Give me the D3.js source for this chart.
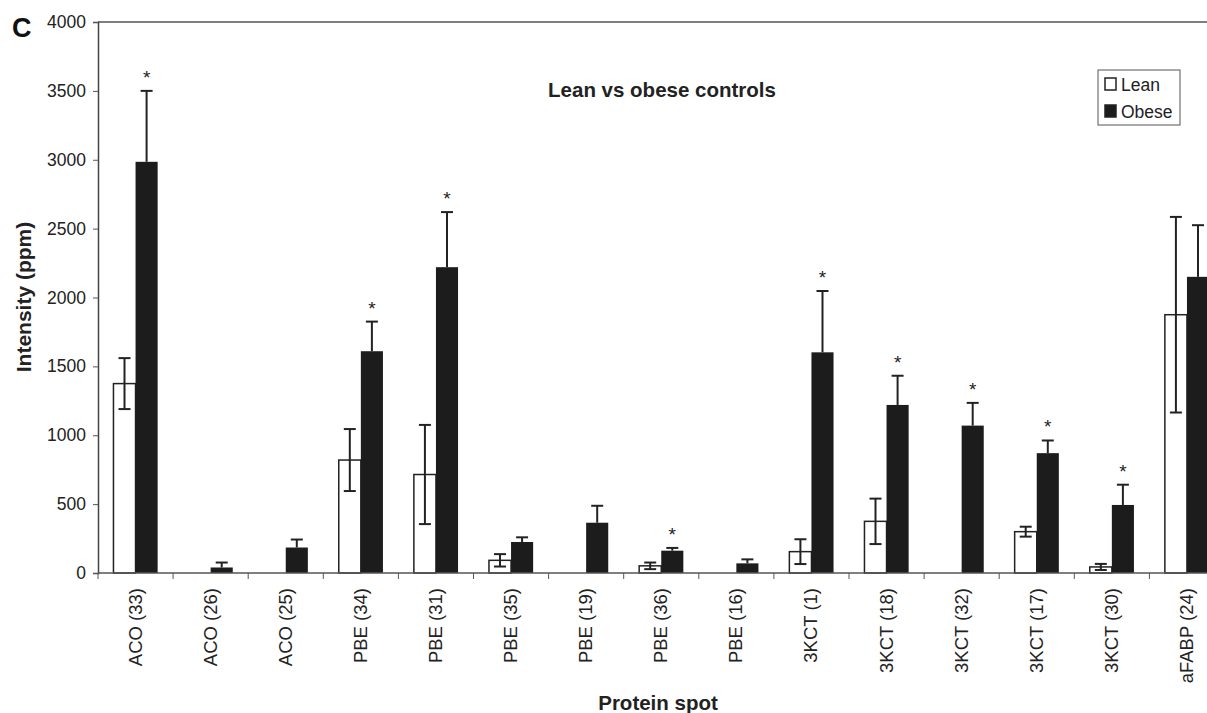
<!DOCTYPE html>
<html>
<head>
<meta charset="utf-8">
<script src="https://cdn.jsdelivr.net/npm/d3@7"></script>
<style>
  body { margin: 0; background: #fff; }
  svg { font-family: Arial, "Liberation Sans", Helvetica, sans-serif; }
</style>
</head>
<body>
<svg width="1207" height="713"></svg>
<script>
// values (ppm)
const spots = ["ACO (33)", "ACO (26)", "ACO (25)", "PBE (34)", "PBE (31)", "PBE (35)", "PBE (19)",
  "PBE (36)", "PBE (16)", "3KCT (1)", "3KCT (18)", "3KCT (32)", "3KCT (17)", "3KCT (30)", "aFABP (24)"];
const leanMean  = [1375, 0, 0, 820, 715, 92, 0, 52, 0, 155, 375, 0, 300, 44, 1875];
const leanErr   = [185, 0, 0, 225, 360, 45, 0, 24, 0, 90, 165, 0, 36, 22, 710];
const obeseMean = [2985, 40, 185, 1610, 2220, 225, 365, 162, 70, 1602, 1220, 1070, 870, 494, 2150];
const obeseErr  = [515, 36, 58, 215, 400, 34, 123, 20, 29, 445, 212, 165, 92, 147, 375];
const significant = [true, false, false, true, true, false, false, true, false, true, true, true, true, true, false];
const yTicks = [0, 500, 1000, 1500, 2000, 2500, 3000, 3500, 4000];
const groups = ["Lean", "Obese"];

const svg = d3.select("svg");
const mLeft = 98, mTop = 22, mBottom = 573, step = 75.1;

const x = d3.scaleBand().domain(spots).range([mLeft, mLeft + step * spots.length]).padding(0);
const x1 = d3.scaleBand().domain(groups).range([0, x.bandwidth()]).paddingInner(0).paddingOuter(0.7);
const y = d3.scaleLinear().domain([0, 4000]).range([mBottom, mTop]);

const rows = spots.map((s, i) => ({
  spot: s,
  bars: [
    {key: "Lean", v: leanMean[i], e: leanErr[i]},
    {key: "Obese", v: obeseMean[i], e: obeseErr[i]}
  ],
  sig: significant[i]
}));

// frame: top border + left axis
svg.append("line").attr("x1", mLeft).attr("x2", 1207).attr("y1", y(4000)).attr("y2", y(4000))
  .attr("stroke", "#555").attr("stroke-width", 1.3);

// y axis
const yAxis = svg.append("g")
  .attr("transform", `translate(${mLeft},0)`)
  .call(d3.axisLeft(y).tickValues(yTicks).tickSize(5).tickPadding(7).tickFormat(d3.format("d")));
yAxis.select(".domain").attr("stroke", "#444").attr("stroke-width", 1.5);
yAxis.selectAll(".tick line").attr("stroke", "#555");
yAxis.selectAll("text").attr("font-size", 17.5).attr("fill", "#222").attr("font-family", null);

// groups
const g = svg.append("g").selectAll("g").data(rows).join("g")
  .attr("transform", d => `translate(${x(d.spot)},0)`);

g.selectAll("rect").data(d => d.bars).join("rect")
  .attr("x", d => x1(d.key))
  .attr("y", d => y(d.v))
  .attr("width", x1.bandwidth())
  .attr("height", d => y(0) - y(d.v))
  .attr("fill", d => d.key === "Lean" ? "#fff" : "#1c1c1c")
  .attr("stroke", d => d.key === "Lean" && d.v > 0 ? "#222" : "none")
  .attr("stroke-width", 1.5);

// error bars (obese: upper half only, the lower half is hidden in the dark bar)
const cx = d => x1(d.key) + x1.bandwidth() / 2;
const eb = g.selectAll("g.err").data(d => d.bars.filter(b => b.e > 0)).join("g").attr("class", "err");
eb.append("line")
  .attr("x1", cx).attr("x2", cx)
  .attr("y1", d => d.key === "Lean" ? y(Math.max(0, d.v - d.e)) : y(d.v))
  .attr("y2", d => y(d.v + d.e))
  .attr("stroke", "#222").attr("stroke-width", 2);
eb.append("line")
  .attr("x1", d => cx(d) - 6).attr("x2", d => cx(d) + 6)
  .attr("y1", d => y(d.v + d.e)).attr("y2", d => y(d.v + d.e))
  .attr("stroke", "#222").attr("stroke-width", 2);
eb.filter(d => d.key === "Lean" && d.v - d.e > 0).append("line")
  .attr("x1", d => cx(d) - 6).attr("x2", d => cx(d) + 6)
  .attr("y1", d => y(d.v - d.e)).attr("y2", d => y(d.v - d.e))
  .attr("stroke", "#222").attr("stroke-width", 2);

// significance stars
g.filter(d => d.sig).append("text")
  .attr("x", x1("Obese") + x1.bandwidth() / 2)
  .attr("y", d => y(d.bars[1].v + d.bars[1].e) - 7)
  .attr("text-anchor", "middle")
  .attr("font-size", 19)
  .attr("fill", "#222")
  .text("*");

// x axis line + ticks between categories
svg.append("line").attr("x1", mLeft).attr("x2", 1207).attr("y1", mBottom).attr("y2", mBottom)
  .attr("stroke", "#555").attr("stroke-width", 1.5);
svg.append("g").selectAll("line").data(spots.concat(["end"])).join("line")
  .attr("x1", (d, i) => mLeft + i * x.step()).attr("x2", (d, i) => mLeft + i * x.step())
  .attr("y1", mBottom).attr("y2", mBottom + 6)
  .attr("stroke", "#555");

// category labels
svg.append("g").selectAll("text").data(spots).join("text")
  .attr("transform", d => `translate(${x(d) + x.bandwidth() / 2 + 6},588) rotate(-90)`)
  .attr("text-anchor", "end")
  .attr("font-size", 18.5)
  .attr("fill", "#222")
  .text(d => d);

// titles
svg.append("text").attr("x", 12).attr("y", 37).attr("font-size", 27).attr("font-weight", "bold")
  .attr("fill", "#111").text("C");
svg.append("text").attr("x", 662).attr("y", 97).attr("text-anchor", "middle")
  .attr("font-size", 20.5).attr("font-weight", "bold").attr("fill", "#222").text("Lean vs obese controls");
svg.append("text").attr("transform", "translate(31,297) rotate(-90)").attr("text-anchor", "middle")
  .attr("font-size", 21).attr("font-weight", "bold").attr("fill", "#222").text("Intensity (ppm)");
svg.append("text").attr("x", 658).attr("y", 710).attr("text-anchor", "middle")
  .attr("font-size", 20.5).attr("font-weight", "bold").attr("fill", "#222").text("Protein spot");

// legend
const lg = svg.append("g").attr("transform", "translate(1098,70)");
lg.append("rect").attr("width", 82).attr("height", 55).attr("fill", "#fff")
  .attr("stroke", "#555").attr("stroke-width", 1);
lg.selectAll("rect.key").data(groups).join("rect").attr("class", "key")
  .attr("x", 7).attr("y", (d, i) => 8 + i * 27).attr("width", 11).attr("height", 12)
  .attr("fill", d => d === "Lean" ? "#fff" : "#1c1c1c")
  .attr("stroke", "#222").attr("stroke-width", 1.5);
lg.selectAll("text").data(groups).join("text")
  .attr("x", 23).attr("y", (d, i) => 21 + i * 27)
  .attr("font-size", 17.5).attr("fill", "#222").text(d => d);
</script>
</body>
</html>
